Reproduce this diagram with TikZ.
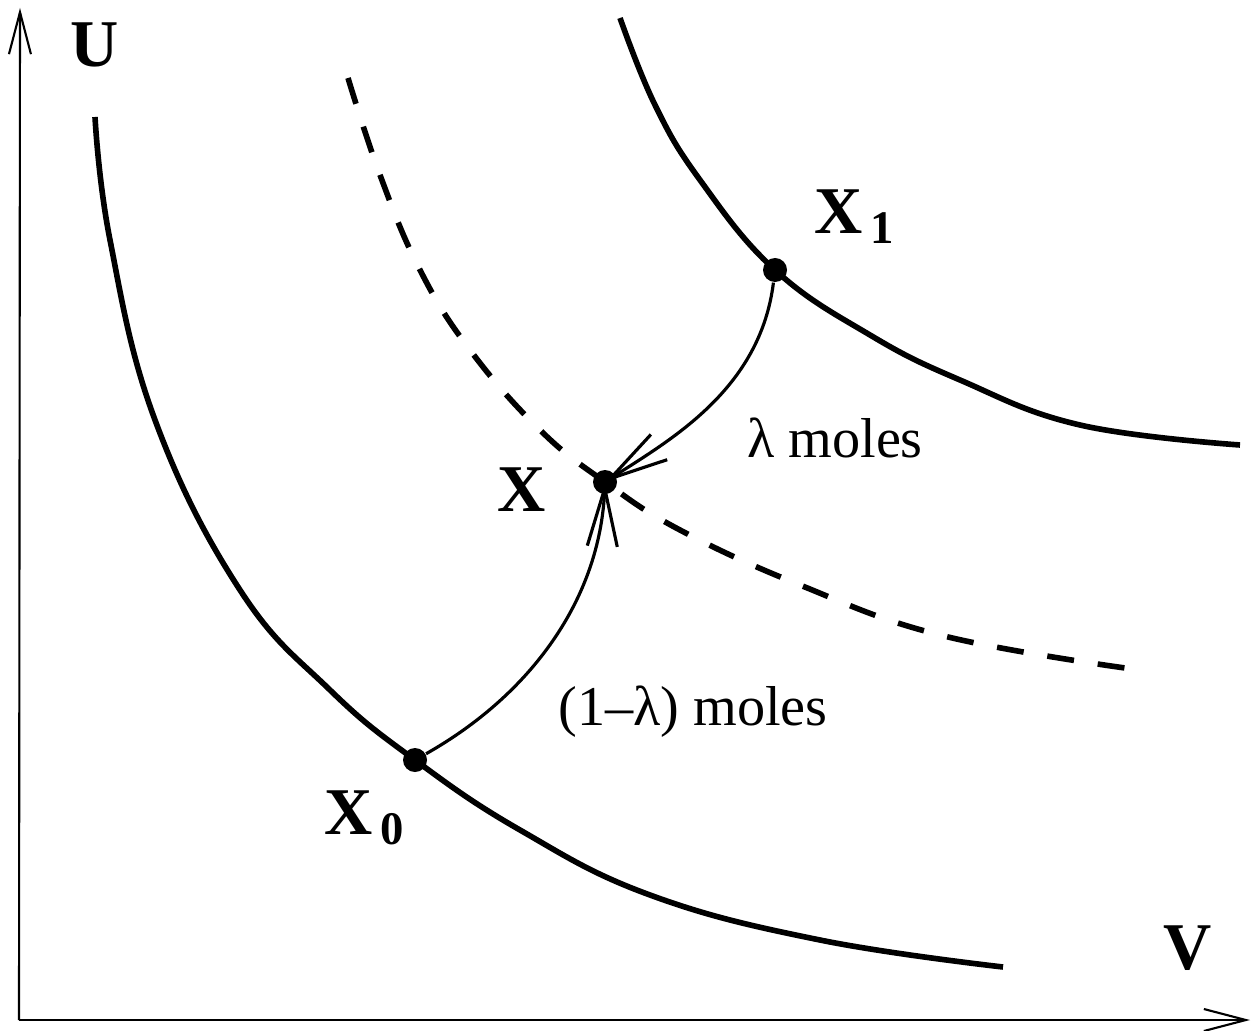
\documentclass[tikz,border=0pt]{standalone}
\usepackage{fontspec}
\setmainfont{Liberation Serif}
\usetikzlibrary{positioning,arrows.meta}

\begin{document}
\begin{tikzpicture}[
    axis/.style={line width=0.6pt, -{Straight Barb[length=4.2mm, width=2.2mm]}},
    curve/.style={line width=1.6pt},
    mix/.style={line width=0.9pt, -{Straight Barb[length=5.8mm, width=3mm]}},
    dot/.style={circle, fill=black, inner sep=0pt, minimum size=0.24cm},
    lab/.style={font=\fontsize{19}{22}\selectfont\bfseries},
    txt/.style={font=\fontsize{16}{19}\selectfont}]
    \useasboundingbox (0,0) rectangle (12.57,10.30);

    % axes
    \coordinate (o) at (0.19,0.10);
    \coordinate (utop) at (0.20,10.22);
    \coordinate (vend) at (12.50,0.10);
    \draw[axis] (o) -- (utop);
    \draw[axis] (o) -- (vend);
    \node[lab] (u) at (0.95,9.85) {U};
    \node[lab] (v) at (11.88,0.82) {V};

    % the two solid curves and the dashed one
    \draw[curve] plot[smooth, tension=0.7] coordinates {(0.95,9.13) (1.10,7.90) (1.55,6.10) (2.40,4.40)
        (3.30,3.40) (4.15,2.70) (5.20,2.00) (6.50,1.35) (8.20,0.90) (10.03,0.63)};
    \draw[curve] plot[smooth, tension=0.7] coordinates {(6.20,10.12) (6.55,9.25) (7.00,8.50) (7.75,7.60)
        (8.70,6.95) (9.60,6.50) (10.80,6.05) (12.40,5.85)};
    \draw[curve, dash pattern=on 0.27cm off 0.24cm] plot[smooth, tension=0.7] coordinates {(3.48,9.52)
        (3.80,8.55) (4.20,7.60) (4.70,6.80) (5.40,6.00) (6.05,5.48) (6.80,5.00) (8.00,4.45)
        (9.40,3.95) (11.25,3.62)};

    % states
    \node[dot] (x0) at (4.15,2.70) {};
    \node[dot] (x1) at (7.75,7.60) {};
    \node[dot] (x) at (6.05,5.48) {};
    \node[lab] (x0lab) at (3.65,2.12) {X\textsubscript{\,0}};
    \node[lab] (x1lab) at (8.55,8.13) {X\textsubscript{\,1}};
    \node[lab] (xlab) at (5.22,5.40) {X};

    % mixing paths
    \draw[mix] (x0) .. controls (5.30,3.35) and (6.00,4.30) .. (x.center);
    \draw[mix] (x1) .. controls (7.60,6.40) and (6.70,5.90) .. (x.center);
    \node[txt] (lam) at (8.35,5.92) {λ moles};
    \node[txt] (onelam) at (6.93,3.18) {(1–λ) moles};
\end{tikzpicture}
\end{document}
